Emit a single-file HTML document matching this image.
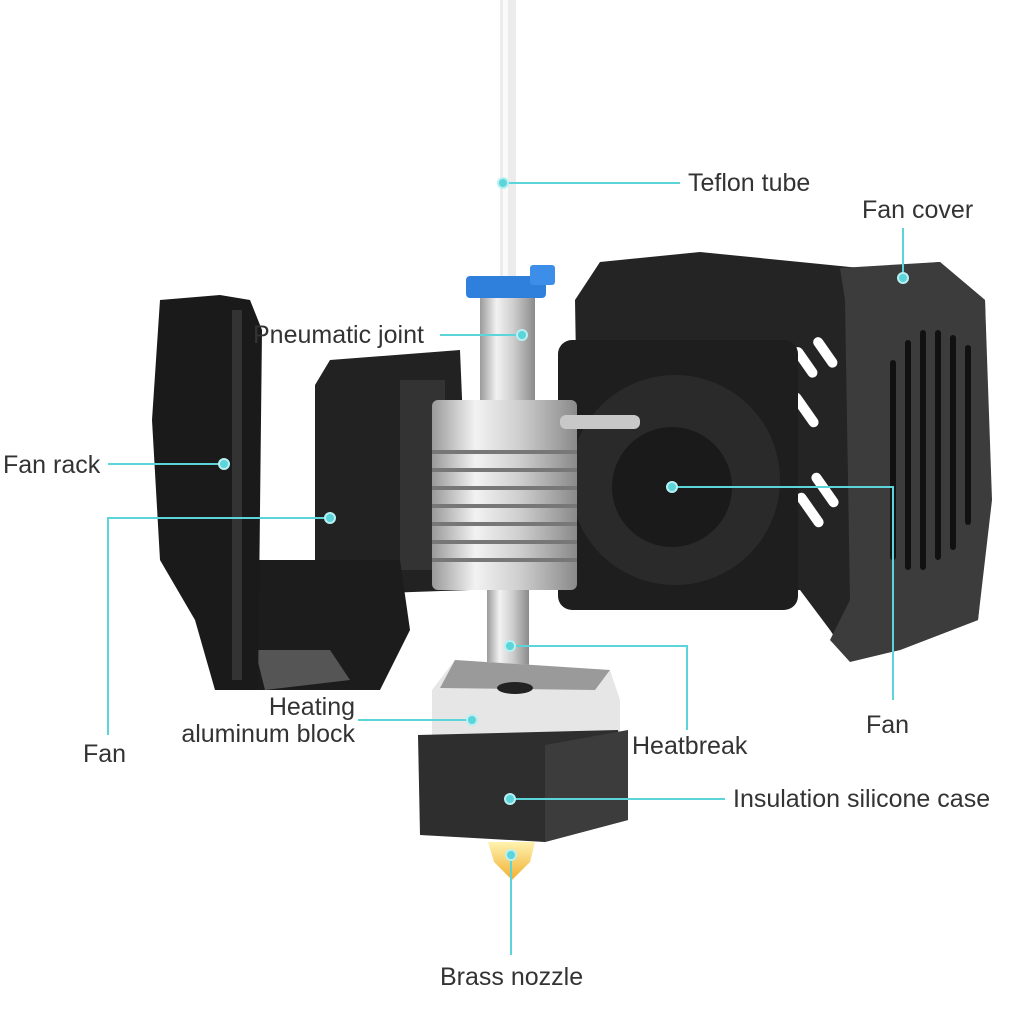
<!DOCTYPE html>
<html><head><meta charset="utf-8"><style>
html,body{margin:0;padding:0;background:#fff;}
svg{display:block}
text{font-family:"Liberation Sans",sans-serif;font-size:25px;fill:#333;}
</style></head><body>
<svg width="1034" height="1034" viewBox="0 0 1034 1034" xmlns="http://www.w3.org/2000/svg">
<defs>
<linearGradient id="silver" x1="0" x2="1" y1="0" y2="0">
<stop offset="0" stop-color="#9a9a9a"/><stop offset="0.3" stop-color="#f2f2f2"/><stop offset="0.6" stop-color="#cfcfcf"/><stop offset="1" stop-color="#8a8a8a"/>
</linearGradient>
<linearGradient id="nozzle" x1="0" x2="0" y1="0" y2="1"><stop offset="0" stop-color="#fff2b0"/><stop offset="1" stop-color="#f0b030"/></linearGradient>
</defs>
<rect x="500" y="0" width="16" height="280" fill="#ececec"/>
<rect x="503" y="0" width="5" height="280" fill="#fafafa"/>
<path d="M575 300 L600 262 L700 252 L800 262 L860 268 L940 262 L985 300 L990 500 L978 620 L900 650 L850 660 L830 630 L800 590 L580 600 Z" fill="#242424"/>
<path d="M840 268 L940 262 L985 300 L992 500 L978 620 L900 650 L850 662 L830 640 L850 600 L845 300 Z" fill="#3c3c3c"/>
<g fill="#111">
<rect x="890" y="360" width="6" height="200" rx="3"/><rect x="905" y="340" width="6" height="230" rx="3"/><rect x="920" y="330" width="6" height="240" rx="3"/><rect x="935" y="330" width="6" height="230" rx="3"/><rect x="950" y="335" width="6" height="215" rx="3"/><rect x="965" y="345" width="6" height="180" rx="3"/>
</g>
<g fill="#fff">
<rect x="800" y="345" width="10" height="35" rx="5" transform="rotate(-35 805 362)"/>
<rect x="820" y="335" width="10" height="35" rx="5" transform="rotate(-35 825 352)"/>
<rect x="800" y="390" width="10" height="40" rx="5" transform="rotate(-35 805 410)"/>
<rect x="820" y="470" width="10" height="40" rx="5" transform="rotate(-35 825 490)"/>
<rect x="805" y="490" width="10" height="40" rx="5" transform="rotate(-35 810 510)"/>
</g>
<rect x="558" y="340" width="240" height="270" rx="14" fill="#1e1e1e"/>
<circle cx="675" cy="480" r="105" fill="#2a2a2a"/>
<circle cx="672" cy="487" r="60" fill="#1a1a1a"/>
<path d="M315 385 L330 360 L460 350 L470 590 L330 595 L315 575 Z" fill="#222"/>
<rect x="400" y="380" width="45" height="190" fill="#333"/>
<path d="M230 560 L400 560 L410 630 L380 690 L250 690 L230 640 Z" fill="#1c1c1c"/>
<path d="M255 650 L330 650 L350 680 L265 690 Z" fill="#555"/>
<path d="M160 300 L220 295 L250 300 L262 330 L258 690 L215 690 L195 620 L160 560 L152 420 Z" fill="#1a1a1a"/>
<rect x="232" y="310" width="10" height="370" fill="#333"/>
<rect x="480" y="295" width="55" height="110" fill="url(#silver)"/>
<rect x="466" y="276" width="80" height="22" rx="4" fill="#2f7fdc"/>
<rect x="530" y="265" width="25" height="20" rx="3" fill="#3d8ee8"/>
<rect x="432" y="400" width="145" height="190" rx="6" fill="url(#silver)"/>
<g fill="#777">
<rect x="432" y="450" width="145" height="4"/><rect x="432" y="468" width="145" height="4"/><rect x="432" y="486" width="145" height="4"/><rect x="432" y="504" width="145" height="4"/><rect x="432" y="522" width="145" height="4"/><rect x="432" y="540" width="145" height="4"/><rect x="432" y="558" width="145" height="4"/>
</g>
<rect x="560" y="415" width="80" height="14" rx="6" fill="#c8c8c8"/>
<rect x="487" y="590" width="42" height="75" fill="url(#silver)"/>
<path d="M432 690 L455 660 L610 670 L620 700 L620 760 L432 760 Z" fill="#e6e6e6"/>
<path d="M455 660 L610 670 L595 690 L440 688 Z" fill="#9a9a9a"/>
<ellipse cx="515" cy="688" rx="18" ry="6" fill="#222"/>
<path d="M418 735 L618 730 L628 820 L545 842 L420 835 Z" fill="#2e2e2e"/>
<path d="M545 745 L628 730 L628 820 L545 842 Z" fill="#3c3c3c"/>
<path d="M488 842 L535 842 L530 862 L512 880 L494 862 Z" fill="url(#nozzle)"/>

<g stroke="#5bd4da" stroke-width="2" fill="none">
<line x1="503" y1="183" x2="680" y2="183"/>
<line x1="903" y1="228" x2="903" y2="278"/>
<line x1="440" y1="335" x2="522" y2="335"/>
<line x1="108" y1="464" x2="224" y2="464"/>
<polyline points="108,735 108,518 330,518"/>
<polyline points="672,487 893,487 893,700"/>
<line x1="358" y1="720" x2="472" y2="720"/>
<polyline points="510,646 687,646 687,730"/>
<line x1="510" y1="799" x2="725" y2="799"/>
<line x1="511" y1="855" x2="511" y2="955"/>
</g>
<g fill="#5bd4da" stroke="#b8f0f2" stroke-width="2">
<circle cx="503" cy="183" r="5"/><circle cx="903" cy="278" r="5"/><circle cx="522" cy="335" r="5"/>
<circle cx="224" cy="464" r="5"/><circle cx="330" cy="518" r="5"/><circle cx="672" cy="487" r="5"/>
<circle cx="472" cy="720" r="5"/><circle cx="510" cy="646" r="5"/><circle cx="510" cy="799" r="5"/><circle cx="511" cy="855" r="5"/>
</g>

<text x="688" y="191">Teflon tube</text>
<text x="862" y="218">Fan cover</text>
<text x="253" y="343">Pneumatic joint</text>
<text x="3" y="473">Fan rack</text>
<text x="83" y="762">Fan</text>
<text x="866" y="733">Fan</text>
<text x="355" y="715" text-anchor="end">Heating</text>
<text x="355" y="742" text-anchor="end">aluminum block</text>
<text x="632" y="754">Heatbreak</text>
<text x="733" y="807">Insulation silicone case</text>
<text x="440" y="985">Brass nozzle</text>
</svg>
</body></html>
